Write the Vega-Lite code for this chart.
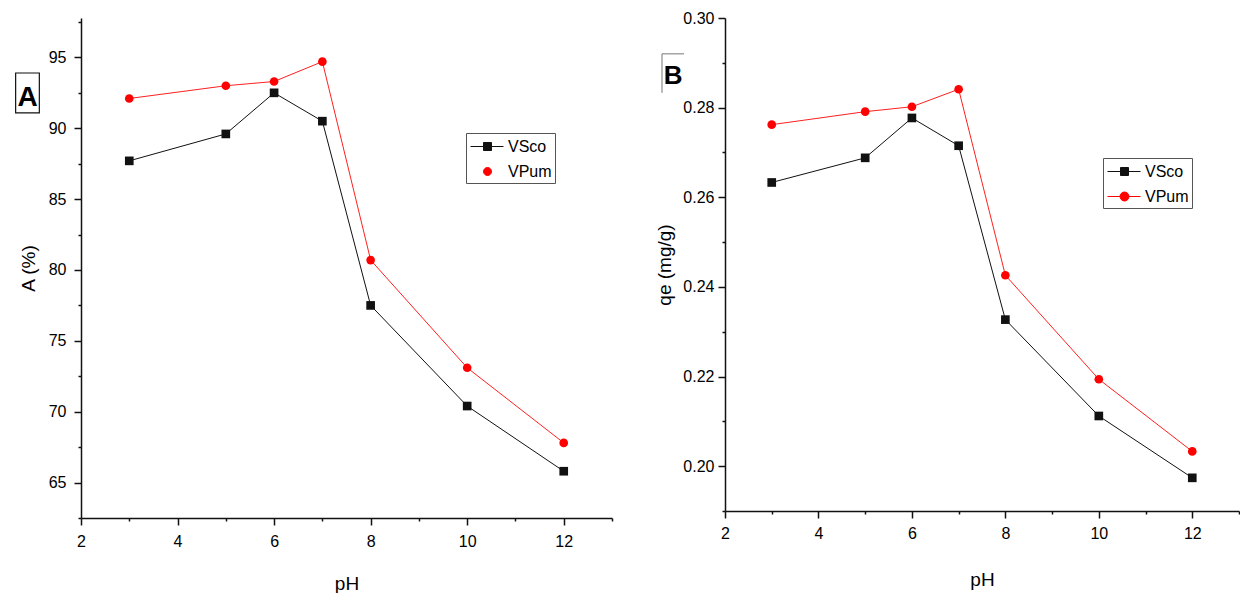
{
  "$schema": "https://vega.github.io/schema/vega-lite/v6.json",
  "background": "white",
  "padding": {"left": 15, "top": 10, "right": 0, "bottom": 0},
  "datasets": {
    "A": [
      {"pH": 3, "series": "VSco", "value": 87.7},
      {"pH": 5, "series": "VSco", "value": 89.6},
      {"pH": 6, "series": "VSco", "value": 92.5},
      {"pH": 7, "series": "VSco", "value": 90.5},
      {"pH": 8, "series": "VSco", "value": 77.5},
      {"pH": 10, "series": "VSco", "value": 70.4},
      {"pH": 12, "series": "VSco", "value": 65.8},
      {"pH": 3, "series": "VPum", "value": 92.1},
      {"pH": 5, "series": "VPum", "value": 93.0},
      {"pH": 6, "series": "VPum", "value": 93.3},
      {"pH": 7, "series": "VPum", "value": 94.7},
      {"pH": 8, "series": "VPum", "value": 80.7},
      {"pH": 10, "series": "VPum", "value": 73.1},
      {"pH": 12, "series": "VPum", "value": 67.8}
    ],
    "B": [
      {"pH": 3, "series": "VSco", "value": 0.2633},
      {"pH": 5, "series": "VSco", "value": 0.2688},
      {"pH": 6, "series": "VSco", "value": 0.2777},
      {"pH": 7, "series": "VSco", "value": 0.2715},
      {"pH": 8, "series": "VSco", "value": 0.2327},
      {"pH": 10, "series": "VSco", "value": 0.2112},
      {"pH": 12, "series": "VSco", "value": 0.1974},
      {"pH": 3, "series": "VPum", "value": 0.2762},
      {"pH": 5, "series": "VPum", "value": 0.2791},
      {"pH": 6, "series": "VPum", "value": 0.2802},
      {"pH": 7, "series": "VPum", "value": 0.2841},
      {"pH": 8, "series": "VPum", "value": 0.2426},
      {"pH": 10, "series": "VPum", "value": 0.2194},
      {"pH": 12, "series": "VPum", "value": 0.2033}
    ]
  },
  "spacing": 113,
  "bounds": "flush",
  "resolve": {"scale": {"color": "independent", "shape": "independent", "stroke": "independent"}},
  "hconcat": [
    {
      "width": 531,
      "height": 500,
      "data": {"name": "A"},
      "layer": [
        {
          "transform": [{"filter": "datum.series === 'VSco'"}],
          "mark": {"type": "line", "strokeWidth": 1, "color": "#111111"},
          "encoding": {
            "x": {"field": "pH", "type": "quantitative", "scale": {"domain": [2, 13], "nice": false, "zero": false},
              "axis": {"title": "pH", "values": [2,3,4,5,6,7,8,9,10,11,12,13], "tickCount": 40,
                "labelExpr": "datum.value % 2 === 0 && datum.value < 13 ? format(datum.value, 'd') : ''",
                "tickSize": {"condition": {"test": "datum.value % 2 === 0", "value": 7}, "value": 3},
                "labelPadding": 8, "titlePadding": 25}},
            "y": {"field": "value", "type": "quantitative", "scale": {"domain": [62.5, 97.78], "nice": false, "zero": false},
              "axis": {"title": "A (%)", "values": [62.5,65,67.5,70,72.5,75,77.5,80,82.5,85,87.5,90,92.5,95,97.5], "tickCount": 40,
                "labelExpr": "datum.value % 5 === 0 ? format(datum.value, 'd') : ''",
                "tickSize": {"condition": {"test": "datum.value % 5 === 0", "value": 7}, "value": 3},
                "labelPadding": 8, "titlePadding": 10}}
          }
        },
        {
          "transform": [{"filter": "datum.series === 'VPum'"}],
          "mark": {"type": "line", "strokeWidth": 1, "color": "#ff2020"},
          "encoding": {
            "x": {"field": "pH", "type": "quantitative", "scale": {"domain": [2, 13], "nice": false, "zero": false}},
            "y": {"field": "value", "type": "quantitative", "scale": {"domain": [62.5, 97.78], "nice": false, "zero": false}}
          }
        },
        {
          "transform": [{"filter": "datum.series === 'VSco'"}],
          "mark": {"type": "point", "shape": "square", "filled": true, "opacity": 1, "size": 75, "color": "#111111"},
          "encoding": {
            "x": {"field": "pH", "type": "quantitative", "scale": {"domain": [2, 13], "nice": false, "zero": false}},
            "y": {"field": "value", "type": "quantitative", "scale": {"domain": [62.5, 97.78], "nice": false, "zero": false}}
          }
        },
        {
          "transform": [{"filter": "datum.series === 'VPum'"}],
          "mark": {"type": "point", "shape": "circle", "filled": true, "opacity": 1, "size": 75, "color": "#ff0000"},
          "encoding": {
            "x": {"field": "pH", "type": "quantitative", "scale": {"domain": [2, 13], "nice": false, "zero": false}},
            "y": {"field": "value", "type": "quantitative", "scale": {"domain": [62.5, 97.78], "nice": false, "zero": false}}
          }
        },
        {
          "mark": {"type": "point", "filled": true, "opacity": 0, "size": 10},
          "encoding": {
            "x": {"field": "pH", "type": "quantitative", "scale": {"domain": [2, 13], "nice": false, "zero": false}},
            "y": {"field": "value", "type": "quantitative", "scale": {"domain": [62.5, 97.78], "nice": false, "zero": false}},
            "color": {"field": "series", "type": "nominal",
              "scale": {"domain": ["VSco", "VPum"], "range": ["#111111", "#ff0000"]},
              "legend": {"title": null, "orient": "none", "legendX": 385, "legendY": 115,
                "strokeColor": "#555", "padding": 3, "symbolSize": 400, "symbolStrokeWidth": 1, "symbolOpacity": 1,
                "symbolOffset": 8, "labelFontSize": 16, "labelColor": "black", "rowPadding": 6, "labelOffset": 10}},
            "stroke": {"field": "series", "type": "nominal",
              "scale": {"domain": ["VSco", "VPum"], "range": ["#111111", "#ff0000"]},
              "legend": {"title": null, "orient": "none", "legendX": 385, "legendY": 115,
                "strokeColor": "#555", "padding": 3, "symbolSize": 400, "symbolStrokeWidth": 1, "symbolOpacity": 1,
                "symbolOffset": 8, "labelFontSize": 16, "labelColor": "black", "rowPadding": 6, "labelOffset": 10}},
            "shape": {"field": "series", "type": "nominal",
              "scale": {"domain": ["VSco", "VPum"], "range": ["M-1.7,0H1.6M-0.4,-0.4H0.4V0.4H-0.4Z", "M0.4,0A0.4,0.4,0,1,1,-0.4,0A0.4,0.4,0,1,1,0.4,0Z"]},
              "legend": {"title": null, "orient": "none", "legendX": 385, "legendY": 115,
                "strokeColor": "#555", "padding": 3, "symbolSize": 400, "symbolStrokeWidth": 1, "symbolOpacity": 1,
                "symbolOffset": 8, "labelFontSize": 16, "labelColor": "black", "rowPadding": 6, "labelOffset": 10}}
          }
        },
        {
          "data": {"values": [{}]},
          "mark": {"type": "rect", "filled": false, "stroke": "#111", "strokeWidth": 1.2},
          "encoding": {
            "x": {"datum": 0.646, "scale": {"domain": [2, 13], "nice": false, "zero": false}},
            "x2": {"datum": 1.137},
            "y": {"datum": 93.9, "scale": {"domain": [62.5, 97.78], "nice": false, "zero": false}},
            "y2": {"datum": 91.08}}
        },
        {
          "data": {"values": [{}]},
          "mark": {"type": "text", "text": "A", "fontWeight": "bold", "fontSize": 28, "color": "black"},
          "encoding": {
            "x": {"datum": 0.892, "scale": {"domain": [2, 13], "nice": false, "zero": false}},
            "y": {"datum": 92.15, "scale": {"domain": [62.5, 97.78], "nice": false, "zero": false}}}
        }
      ]
    },
    {
      "width": 514,
      "height": 493,
      "data": {"name": "B"},
      "layer": [
        {
          "transform": [{"filter": "datum.series === 'VSco'"}],
          "mark": {"type": "line", "strokeWidth": 1, "color": "#111111"},
          "encoding": {
            "x": {"field": "pH", "type": "quantitative", "scale": {"domain": [2, 13], "nice": false, "zero": false},
              "axis": {"title": "pH", "values": [2,3,4,5,6,7,8,9,10,11,12,13], "tickCount": 40,
                "labelExpr": "datum.value % 2 === 0 && datum.value < 13 ? format(datum.value, 'd') : ''",
                "tickSize": {"condition": {"test": "datum.value % 2 === 0", "value": 7}, "value": 3},
                "labelPadding": 7, "titlePadding": 29}},
            "y": {"field": "value", "type": "quantitative", "scale": {"domain": [0.19, 0.30], "nice": false, "zero": false},
              "axis": {"title": "qe (mg/g)", "values": [0.19,0.2,0.21,0.22,0.23,0.24,0.25,0.26,0.27,0.28,0.29,0.3], "tickCount": 40,
                "labelExpr": "round(datum.value*100) % 2 === 0 ? format(datum.value, '.2f') : ''",
                "tickSize": {"condition": {"test": "round(datum.value*100) % 2 === 0", "value": 7}, "value": 3},
                "labelPadding": 4, "titlePadding": 8}}
          }
        },
        {
          "transform": [{"filter": "datum.series === 'VPum'"}],
          "mark": {"type": "line", "strokeWidth": 1, "color": "#ff2020"},
          "encoding": {
            "x": {"field": "pH", "type": "quantitative", "scale": {"domain": [2, 13], "nice": false, "zero": false}},
            "y": {"field": "value", "type": "quantitative", "scale": {"domain": [0.19, 0.30], "nice": false, "zero": false}}
          }
        },
        {
          "transform": [{"filter": "datum.series === 'VSco'"}],
          "mark": {"type": "point", "shape": "square", "filled": true, "opacity": 1, "size": 75, "color": "#111111"},
          "encoding": {
            "x": {"field": "pH", "type": "quantitative", "scale": {"domain": [2, 13], "nice": false, "zero": false}},
            "y": {"field": "value", "type": "quantitative", "scale": {"domain": [0.19, 0.30], "nice": false, "zero": false}}
          }
        },
        {
          "transform": [{"filter": "datum.series === 'VPum'"}],
          "mark": {"type": "point", "shape": "circle", "filled": true, "opacity": 1, "size": 75, "color": "#ff0000"},
          "encoding": {
            "x": {"field": "pH", "type": "quantitative", "scale": {"domain": [2, 13], "nice": false, "zero": false}},
            "y": {"field": "value", "type": "quantitative", "scale": {"domain": [0.19, 0.30], "nice": false, "zero": false}}
          }
        },
        {
          "mark": {"type": "point", "filled": true, "opacity": 0, "size": 10},
          "encoding": {
            "x": {"field": "pH", "type": "quantitative", "scale": {"domain": [2, 13], "nice": false, "zero": false}},
            "y": {"field": "value", "type": "quantitative", "scale": {"domain": [0.19, 0.30], "nice": false, "zero": false}},
            "color": {"field": "series", "type": "nominal",
              "scale": {"domain": ["VSco", "VPum"], "range": ["#111111", "#ff0000"]},
              "legend": {"title": null, "orient": "none", "legendX": 378, "legendY": 140,
                "strokeColor": "#555", "padding": 3, "symbolSize": 400, "symbolStrokeWidth": 1, "symbolOpacity": 1,
                "symbolOffset": 8, "labelFontSize": 16, "labelColor": "black", "rowPadding": 6, "labelOffset": 10}},
            "stroke": {"field": "series", "type": "nominal",
              "scale": {"domain": ["VSco", "VPum"], "range": ["#111111", "#ff0000"]},
              "legend": {"title": null, "orient": "none", "legendX": 378, "legendY": 140,
                "strokeColor": "#555", "padding": 3, "symbolSize": 400, "symbolStrokeWidth": 1, "symbolOpacity": 1,
                "symbolOffset": 8, "labelFontSize": 16, "labelColor": "black", "rowPadding": 6, "labelOffset": 10}},
            "shape": {"field": "series", "type": "nominal",
              "scale": {"domain": ["VSco", "VPum"], "range": ["M-1.7,0H1.6M-0.4,-0.4H0.4V0.4H-0.4Z", "M-1.7,0H1.6M0.45,0A0.45,0.45,0,1,1,-0.45,0A0.45,0.45,0,1,1,0.45,0Z"]},
              "legend": {"title": null, "orient": "none", "legendX": 378, "legendY": 140,
                "strokeColor": "#555", "padding": 3, "symbolSize": 400, "symbolStrokeWidth": 1, "symbolOpacity": 1,
                "symbolOffset": 8, "labelFontSize": 16, "labelColor": "black", "rowPadding": 6, "labelOffset": 10}}
          }
        },
        {
          "data": {"values": [{}]},
          "mark": {"type": "rule", "stroke": "#777", "strokeWidth": 1},
          "encoding": {
            "x": {"datum": 0.652, "scale": {"domain": [2, 13], "nice": false, "zero": false}},
            "y": {"datum": 0.292, "scale": {"domain": [0.19, 0.30], "nice": false, "zero": false}},
            "y2": {"datum": 0.2833}}
        },
        {
          "data": {"values": [{}]},
          "mark": {"type": "rule", "stroke": "#777", "strokeWidth": 1},
          "encoding": {
            "y": {"datum": 0.292, "scale": {"domain": [0.19, 0.30], "nice": false, "zero": false}},
            "x": {"datum": 0.652, "scale": {"domain": [2, 13], "nice": false, "zero": false}},
            "x2": {"datum": 1.123}}
        },
        {
          "data": {"values": [{}]},
          "mark": {"type": "text", "text": "B", "fontWeight": "bold", "fontSize": 26, "color": "black"},
          "encoding": {
            "x": {"datum": 0.888, "scale": {"domain": [2, 13], "nice": false, "zero": false}},
            "y": {"datum": 0.287, "scale": {"domain": [0.19, 0.30], "nice": false, "zero": false}}}
        }
      ]
    }
  ],
  "config": {
    "font": "Liberation Sans",
    "view": {"stroke": null},
    "legend": {"labelFont": "Liberation Sans"},
    "axis": {
      "grid": false,
      "domainColor": "#111",
      "domainWidth": 1.5,
      "tickColor": "#111",
      "tickWidth": 1.5,
      "labelColor": "black",
      "labelFont": "Liberation Sans",
      "labelFontSize": 16,
      "labelFlush": false,
      "labelOverlap": false,
      "titleColor": "black",
      "titleFont": "Liberation Sans",
      "titleFontSize": 19,
      "titleFontWeight": "normal"
    }
  }
}
